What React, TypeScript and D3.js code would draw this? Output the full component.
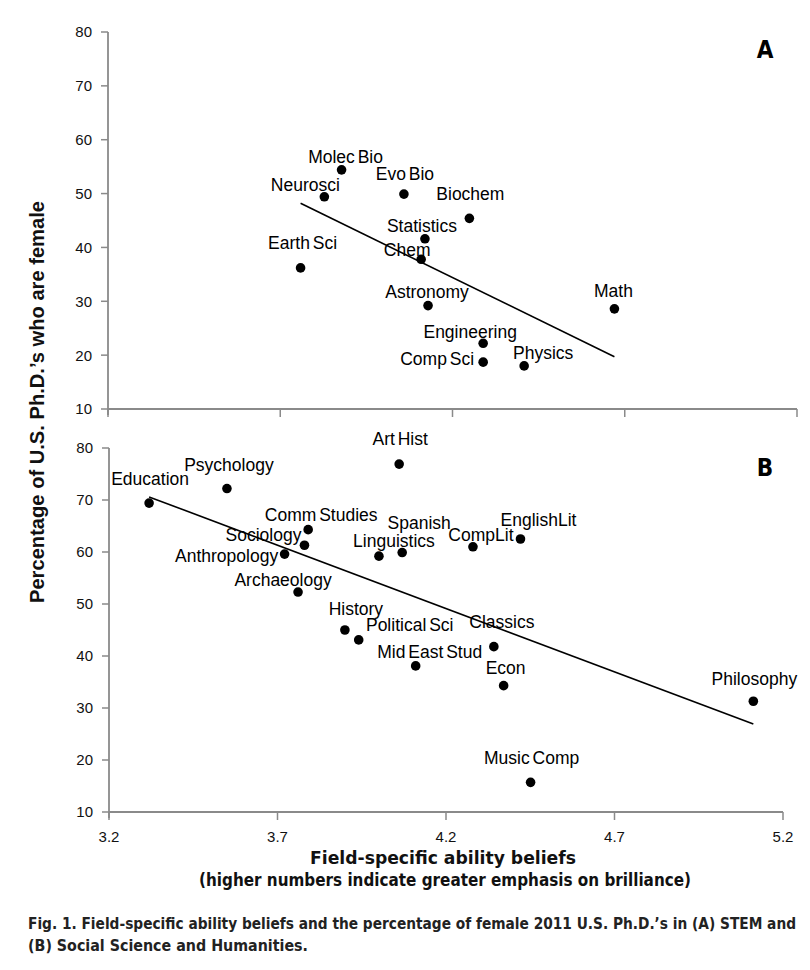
import React from "react";
import * as d3 from "d3";

// ---------- Data ----------
const stemFields = ["Molec Bio", "Neurosci", "Evo Bio", "Biochem", "Statistics", "Chem", "Earth Sci", "Astronomy", "Math", "Engineering", "Comp Sci", "Physics"];
const stemBeliefs = [3.878, 3.828, 4.059, 4.249, 4.12, 4.109, 3.759, 4.129, 4.67, 4.289, 4.289, 4.408];
const stemFemale = [54.4, 49.4, 49.9, 45.4, 41.6, 37.8, 36.2, 29.2, 28.6, 22.2, 18.7, 18.0];
const stemFitX = [3.759, 4.67];
const stemFitY = [48.2, 19.7];

const sshFields = ["Education", "Psychology", "Art Hist", "Comm Studies", "Sociology", "Anthropology", "Archaeology", "Linguistics", "Spanish", "History", "Political Sci", "Mid East Stud", "CompLit", "EnglishLit", "Classics", "Econ", "Philosophy", "Music Comp"];
const sshBeliefs = [3.319, 3.55, 4.061, 3.791, 3.78, 3.721, 3.761, 4.001, 4.07, 3.9, 3.941, 4.11, 4.28, 4.421, 4.342, 4.371, 5.112, 4.451];
const sshFemale = [69.4, 72.2, 76.9, 64.3, 61.3, 59.6, 52.3, 59.2, 59.9, 45.0, 43.1, 38.1, 61.0, 62.5, 41.8, 34.3, 31.3, 15.7];
const sshFitX = [3.319, 5.112];
const sshFitY = [70.6, 26.9];

const xTicks = [3.2, 3.7, 4.2, 4.7, 5.2];
const yTicks = [10, 20, 30, 40, 50, 60, 70, 80];

// ---------- Layout (label offsets in px relative to dot) ----------
const stemLabelOffsets: Record<string, [number, number]> = {
  "Molec Bio": [4, -7], "Neurosci": [-19, -6], "Evo Bio": [1, -14], "Biochem": [1, -18],
  "Statistics": [-3, -7], "Chem": [-14, -3], "Earth Sci": [2, -19], "Astronomy": [-1, -8],
  "Math": [-1, -12], "Engineering": [-13, -5], "Comp Sci": [-46, 3], "Physics": [19, -7],
};
const sshLabelOffsets: Record<string, [number, number]> = {
  "Education": [1, -18], "Psychology": [2, -18], "Art Hist": [1, -19], "Comm Studies": [13, -9],
  "Sociology": [-41, -4], "Anthropology": [-58, 8], "Archaeology": [-15, -6], "Linguistics": [15, -9],
  "Spanish": [17, -24], "History": [11, -15], "Political Sci": [51, -9], "Mid East Stud": [14, -8],
  "CompLit": [8, -6], "EnglishLit": [18, -13], "Classics": [8, -19], "Econ": [2, -12],
  "Philosophy": [1, -16], "Music Comp": [1, -18],
};

const SANS = "'Liberation Sans', Arial, Helvetica, sans-serif";
const NARROW = "'Liberation Sans Narrow', 'Arial Narrow', 'DejaVu Sans Condensed', 'Liberation Sans', sans-serif";
const AXIS = "#8a8a8a";

type PanelProps = {
  fields: string[];
  xs: number[];
  ys: number[];
  fitX: number[];
  fitY: number[];
  offsets: Record<string, [number, number]>;
  xRange: [number, number];
  yRange: [number, number];
  letter: string;
  showXLabels: boolean;
};

function Panel({ fields, xs, ys, fitX, fitY, offsets, xRange, yRange, letter, showXLabels }: PanelProps) {
  const x = d3.scaleLinear().domain([3.2, 5.2]).range(xRange);
  const y = d3.scaleLinear().domain([10, 80]).range(yRange);
  const line = d3.line<number>().x((_, i) => x(fitX[i])).y((v) => y(v));
  const x0 = xRange[0];
  const yBase = yRange[0];
  return (
    <g>
      {/* y axis */}
      <line x1={x0} x2={x0} y1={y(80)} y2={yBase + 6} stroke={AXIS} strokeWidth={1.8} />
      {yTicks.map((t) => (
        <g key={"y" + t}>
          <line x1={x0 - 7} x2={x0} y1={y(t)} y2={y(t)} stroke={AXIS} strokeWidth={1.5} />
          <text x={x0 - 16} y={y(t)} dy="0.36em" textAnchor="end" fontFamily={SANS} fontSize={15} fill="#111">
            {t}
          </text>
        </g>
      ))}
      {/* x axis */}
      <line x1={x0} x2={xRange[1]} y1={yBase} y2={yBase} stroke={AXIS} strokeWidth={1.8} />
      {xTicks.map((t) => (
        <g key={"x" + t}>
          <line x1={x(t)} x2={x(t)} y1={yBase} y2={yBase + 8} stroke={AXIS} strokeWidth={1.5} />
          {showXLabels && (
            <text x={x(t)} y={yBase + 30} textAnchor="middle" fontFamily={SANS} fontSize={15} fill="#111">
              {t.toFixed(1)}
            </text>
          )}
        </g>
      ))}
      {/* fit line */}
      <path d={line(fitY) || ""} fill="none" stroke="#000" strokeWidth={1.6} />
      {/* points */}
      {fields.map((f, i) => (
        <circle key={"c" + f} cx={x(xs[i])} cy={y(ys[i])} r={4.8} fill="#000" />
      ))}
      {fields.map((f, i) => {
        const [dx, dy] = offsets[f] || [0, -12];
        return (
          <text key={"t" + f} x={x(xs[i]) + dx} y={y(ys[i]) + dy} textAnchor="middle" fontFamily={SANS} fontSize={17.5} wordSpacing={-2} fill="#000">
            {f}
          </text>
        );
      })}
      <text x={765} y={yRange[1] + (letter === "A" ? 26 : 28)} textAnchor="middle" fontFamily={NARROW} fontWeight="bold" fontSize={24} fill="#000">
        {letter}
      </text>
    </g>
  );
}

export default function App() {
  return (
    <svg width={810} height={970} viewBox="0 0 810 970" style={{ display: "block", position: "absolute", left: 0, top: 0, background: "#fff" }}>
      <rect x={0} y={0} width={810} height={970} fill="#fff" />
      <Panel fields={stemFields} xs={stemBeliefs} ys={stemFemale} fitX={stemFitX} fitY={stemFitY} offsets={stemLabelOffsets}
        xRange={[108, 797]} yRange={[409, 32]} letter="A" showXLabels={false} />
      <Panel fields={sshFields} xs={sshBeliefs} ys={sshFemale} fitX={sshFitX} fitY={sshFitY} offsets={sshLabelOffsets}
        xRange={[109, 783]} yRange={[812, 448]} letter="B" showXLabels={true} />
      {/* y axis title */}
      <text transform="translate(44,402) rotate(-90)" textAnchor="middle" fontFamily={SANS} fontWeight="bold" fontSize={19.5}
        textLength={402} lengthAdjust="spacingAndGlyphs" fill="#111">
        Percentage of U.S. Ph.D.’s who are female
      </text>
      {/* x axis title */}
      <text x={310} y={864} fontFamily={NARROW} fontWeight="bold" fontSize={18.5} textLength={266} lengthAdjust="spacingAndGlyphs" fill="#111">
        Field-specific ability beliefs
      </text>
      <text x={199} y={886} fontFamily={NARROW} fontWeight="bold" fontSize={17} textLength={492} lengthAdjust="spacingAndGlyphs" fill="#111">
        (higher numbers indicate greater emphasis on brilliance)
      </text>
      {/* caption */}
      <text x={28} y={929} fontFamily={NARROW} fontWeight="bold" fontSize={15.5} textLength={768} lengthAdjust="spacingAndGlyphs" fill="#222">
        Fig. 1. Field-specific ability beliefs and the percentage of female 2011 U.S. Ph.D.’s in (A) STEM and
      </text>
      <text x={28} y={951} fontFamily={NARROW} fontWeight="bold" fontSize={15.5} textLength={280} lengthAdjust="spacingAndGlyphs" fill="#222">
        (B) Social Science and Humanities.
      </text>
    </svg>
  );
}
